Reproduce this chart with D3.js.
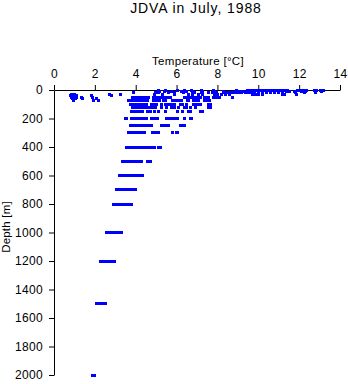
<!DOCTYPE html>
<html>
<head>
<meta charset="utf-8">
<script src="https://cdn.jsdelivr.net/npm/d3@7"></script>
<style>
  html, body { margin: 0; padding: 0; background: #fff; }
  svg { display: block; font-family: "Liberation Sans", Arial, Helvetica, sans-serif; }
  .axis text { font-size: 12px; fill: #000; letter-spacing: 0.3px; }
  .axis path, .axis line { stroke: #000; stroke-width: 1; }
</style>
</head>
<body>
<svg id="chart" width="348" height="384"></svg>
<script>
// Sampling depths (m) of the July 1988 JDVA casts
const depthLevels = [0, 10, 20, 30, 40, 50, 60, 75, 100, 125, 150, 200, 250, 300, 400, 500, 600, 700, 800, 1000, 1200, 1500, 2000];

// Observed temperatures (°C) at each sampling depth, same order as depthLevels
const levelTemps = [
  [5.1, 5.45, 6.05, 6.4, 6.75, 7.2, 7.8, 8.95, 9.45, 9.55, 9.65, 9.75, 9.85, 9.95, 10.05, 10.15, 10.25, 10.35, 10.45, 10.55, 10.65, 10.75, 10.85, 10.95, 11.05, 11.15, 11.3, 11.45, 11.9, 12.05, 12.2, 12.35, 12.75, 12.85, 13.05, 13.2],
  [5.15, 5.4, 5.75, 6.25, 6.5, 6.8, 7.25, 7.85, 8.3, 8.9, 9.05, 9.2, 9.3, 9.45, 9.6, 9.8, 10.0, 10.2, 10.4, 10.6, 10.8, 11.0, 11.2, 11.4, 11.55, 11.75, 12.1, 12.3, 12.8, 13.1],
  [3.9, 4.95, 5.1, 5.6, 5.9, 6.35, 6.9, 7.2, 7.55, 7.75, 7.95, 8.3, 8.45, 8.6, 8.75, 8.9, 9.05, 9.2, 9.35, 9.5, 9.65, 9.8, 10.0, 10.2, 10.4, 10.6, 10.8, 11.0, 11.2, 11.8, 12.25, 12.8],
  [0.85, 1.0, 2.7, 3.25, 4.9, 5.3, 5.9, 6.6, 6.8, 7.05, 7.25, 7.85, 8.0, 8.2, 8.4, 8.6, 9.7, 9.85, 10.0, 10.2, 11.2, 11.3, 11.85],
  [0.8, 0.95, 1.1, 1.85, 2.8],
  [0.85, 1.0, 1.1, 1.35, 1.9, 3.85, 3.95, 4.05, 4.15, 4.25, 4.35, 4.45, 4.55, 4.65, 4.85, 4.95, 5.1, 5.25, 5.35, 5.45, 5.55, 5.7, 6.4, 6.5, 6.6, 6.7, 6.85, 6.95, 7.05, 7.15, 7.35, 7.45, 7.55, 7.8, 7.9, 8.0, 8.1, 8.75],
  [0.9, 1.05, 1.4, 2.1],
  [0.95, 1.95, 2.2, 3.65, 3.75, 3.85, 3.95, 4.05, 4.15, 4.25, 4.35, 4.45, 4.55, 4.6, 4.85, 4.95, 5.05, 5.15, 5.35, 5.45, 5.8, 5.9, 6.05, 6.15, 6.25, 6.55, 6.6, 6.85, 6.95, 7.05, 7.35, 7.45, 7.6],
  [3.75, 3.85, 3.95, 4.05, 4.15, 4.25, 4.35, 4.45, 4.55, 4.75, 4.85, 5.0, 5.25, 5.45, 5.55, 5.7, 5.8, 5.9, 6.2, 6.3, 6.5, 6.85, 6.95, 7.05, 7.15, 7.55, 7.65],
  [3.85, 3.95, 4.05, 4.15, 4.25, 4.35, 4.45, 4.55, 4.65, 4.75, 4.85, 4.95, 5.25, 5.5, 5.75, 5.9, 6.1, 6.4, 6.5, 6.7, 6.95, 7.55, 7.65],
  [3.8, 3.9, 4.0, 4.1, 4.2, 4.35, 4.6, 4.7, 4.9, 5.1, 5.45, 6.05, 6.3, 6.6, 6.7, 7.15, 7.25],
  [3.5, 3.55, 3.8, 3.9, 4.0, 4.1, 4.25, 4.35, 4.45, 4.55, 4.75, 4.85, 4.95, 5.05, 5.5, 5.6, 5.7, 5.8, 5.9, 6.0, 6.05, 6.4, 6.7, 6.75],
  [3.75, 3.85, 3.95, 4.05, 4.15, 4.25, 4.4, 4.5, 4.65, 4.75, 5.25, 5.35, 5.5, 5.6, 6.2, 6.3, 6.4],
  [3.65, 3.75, 3.85, 3.95, 4.05, 4.15, 4.25, 4.35, 4.45, 4.8, 4.9, 5.0, 5.1, 5.8, 6.0, 6.05],
  [3.55, 3.65, 3.75, 3.85, 3.95, 4.05, 4.15, 4.25, 4.35, 4.45, 4.55, 4.65, 4.75, 4.9, 5.1, 5.2],
  [3.35, 3.45, 3.55, 3.65, 3.75, 3.85, 3.95, 4.05, 4.15, 4.25, 4.3, 4.6, 4.7],
  [3.2, 3.3, 3.4, 3.5, 3.6, 3.7, 3.8, 3.9, 4.0, 4.1, 4.2, 4.3, 4.35],
  [3.05, 3.15, 3.25, 3.35, 3.45, 3.55, 3.65, 3.75, 3.85, 3.95, 4.0],
  [2.9, 3.0, 3.1, 3.2, 3.3, 3.4, 3.5, 3.6, 3.7, 3.8],
  [2.55, 2.65, 2.75, 2.85, 2.95, 3.05, 3.15, 3.25, 3.3],
  [2.3, 2.4, 2.5, 2.6, 2.7, 2.8, 2.9, 2.95],
  [2.1, 2.2, 2.3, 2.4, 2.5],
  [1.9, 2.0]
];

const tempTicks = [0, 2, 4, 6, 8, 10, 12, 14];
const depthTicks = [0, 200, 400, 600, 800, 1000, 1200, 1400, 1600, 1800, 2000];

// Flatten into one record per observation
const observations = depthLevels.flatMap((d, i) => levelTemps[i].map(t => ({ depth: d, temp: t })));

const svg = d3.select("#chart");

const x = d3.scaleLinear().domain([0, 14]).range([54, 340]);
const y = d3.scaleLinear().domain([0, 2000]).range([90, 375]);

// Title
svg.append("text")
  .attr("x", 196).attr("y", 13)
  .attr("text-anchor", "middle")
  .style("font-size", "14px")
  .style("letter-spacing", "0.9px")
  .text("JDVA in July, 1988");

// Temperature axis along the top
svg.append("g")
  .attr("class", "axis")
  .attr("transform", `translate(0,${y(0)})`)
  .call(d3.axisTop(x).tickValues(tempTicks).tickSize(5).tickPadding(7).tickSizeOuter(0).tickFormat(d3.format("d")));

svg.append("text")
  .attr("x", 198).attr("y", 65)
  .attr("text-anchor", "middle")
  .style("font-size", "11.5px")
  .style("letter-spacing", "0.3px")
  .text("Temperature [°C]");

// Depth axis, increasing downward
svg.append("g")
  .attr("class", "axis")
  .attr("transform", `translate(${x(0)},0)`)
  .call(d3.axisLeft(y).tickValues(depthTicks).tickSize(5).tickPadding(6).tickSizeOuter(0).tickFormat(d3.format("d")));

svg.append("text")
  .attr("transform", "translate(10,227) rotate(-90)")
  .attr("text-anchor", "middle")
  .style("font-size", "11.5px")
  .style("letter-spacing", "0.2px")
  .text("Depth [m]");

// Observations
svg.append("g")
  .selectAll("rect")
  .data(observations)
  .join("rect")
  .attr("x", d => x(d.temp) - 1.5)
  .attr("y", d => y(d.depth) - 1.5)
  .attr("width", 3)
  .attr("height", 3)
  .attr("fill", "#0000ff")
  .attr("shape-rendering", "crispEdges");
</script>
</body>
</html>
